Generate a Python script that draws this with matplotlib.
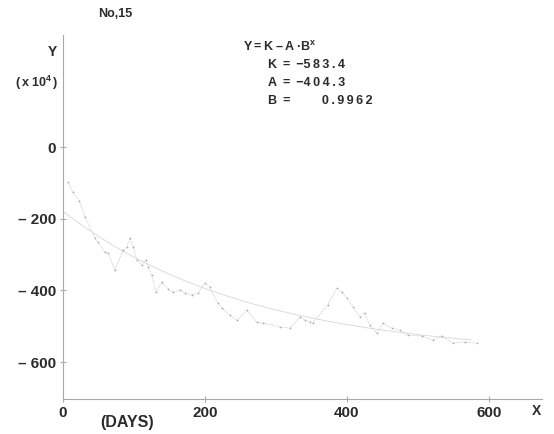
import matplotlib
matplotlib.use("Agg")
import matplotlib.pyplot as plt
from matplotlib.ticker import FixedLocator, FuncFormatter

plt.rcParams['font.family'] = ['Liberation Sans', 'DejaVu Sans']
plt.rcParams['mathtext.fontset'] = 'custom'
plt.rcParams['mathtext.rm'] = 'Liberation Sans'
plt.rcParams['mathtext.bf'] = 'Liberation Sans:bold'
plt.rcParams['mathtext.it'] = 'Liberation Sans:italic'

# Observed data (days, value x10^4)
obs_days = [7, 14, 23, 31, 45, 49, 59, 64, 73, 85, 90, 94, 99, 104, 111, 117, 120, 125,
            131, 139, 148, 155, 165, 172, 182, 190, 200, 207, 218, 224, 235, 245, 259,
            273, 282, 306, 320, 334, 341, 348, 352, 373, 386, 393, 400, 409, 418, 425,
            432, 442, 451, 463, 475, 486, 506, 521, 534, 549, 566, 583]
obs_vals = [-98, -126, -150, -195, -254, -265, -293, -296, -343, -287, -279, -254, -279,
            -315, -329, -315, -335, -357, -405, -377, -396, -405, -399, -408, -413, -408,
            -380, -391, -436, -449, -469, -483, -455, -488, -491, -502, -505, -474, -483,
            -488, -491, -441, -394, -405, -421, -446, -474, -463, -497, -519, -491, -505,
            -511, -525, -527, -539, -527, -547, -544, -547]

# Fitted curve read at regular days
fit_days = [0, 25, 50, 75, 100, 125, 150, 175, 200, 225, 250, 275, 300, 325, 350, 375,
            400, 425, 450, 475, 500, 525, 550, 575]
fit_vals = [-179.1, -215.8, -249.2, -279.5, -307.1, -332.2, -355.0, -375.7, -394.6,
            -411.7, -427.3, -441.5, -454.4, -466.1, -476.7, -486.4, -495.2, -503.2,
            -510.5, -517.1, -523.2, -528.6, -533.6, -538.1]

x_ticks = [0, 200, 400, 600]
y_ticks = [0, -200, -400, -600]
TS = "\u2009"  # thin space for letter spacing
eq_title = "Y" + TS + "=" + TS + "K" + TS + "\u2013" + TS + "A" + TS + "\u00b7B$^{\\mathbf{x}}$"
eq_lines = ["K" + TS + " = " + TS + "\u2212" + TS.join("583.4"),
            "A" + TS + " = " + TS + "\u2212" + TS.join("404.3"),
            "B" + TS + " =" + "         " + TS.join("0.9962")]

W, H = 554, 434
fig = plt.figure(figsize=(W / 100, H / 100), dpi=100)
ax = fig.add_axes([63 / W, 1 - 399 / H, (542 - 63) / W, (399 - 35) / H])
ax.set_xlim(0, 675)
ax.set_ylim(-703, 313)

txt_col = '#2b2b2b'
axis_col = '#a8a8a8'

ax.plot(fit_days, fit_vals, color='#dcdcdc', lw=0.7, zorder=2)
ax.plot(obs_days, obs_vals, color='#d4d4d4', lw=0.6, ls=(0, (2, 1)), marker='.', ms=2.5,
        mfc='#aaaaaa', mec='none', zorder=3)

for s in ['top', 'right']:
    ax.spines[s].set_visible(False)
for s in ['left', 'bottom']:
    ax.spines[s].set_color(axis_col)
    ax.spines[s].set_linewidth(0.8)

ax.xaxis.set_major_locator(FixedLocator(x_ticks))
ax.yaxis.set_major_locator(FixedLocator(y_ticks))
ax.xaxis.set_major_formatter(FuncFormatter(lambda v, p: f"{int(v)}"))
ax.yaxis.set_major_formatter(FuncFormatter(
    lambda v, p: "0" if v == 0 else f"\u2013 {abs(int(v))}"))
ax.tick_params(axis='both', direction='inout', length=4, width=0.8, color=axis_col,
               labelsize=11, labelcolor=txt_col, pad=3)
for lab in ax.get_xticklabels() + ax.get_yticklabels():
    lab.set_fontweight('bold')

tkw = dict(color=txt_col, fontweight='bold', fontsize=9)
fig.text(115 / W, 1 - 14 / H, "No,15", ha='center', va='center', **tkw)
fig.text(52 / W, 1 - 52 / H, "Y", ha='center', va='center', fontsize=10,
         color=txt_col, fontweight='bold')
fig.text(37 / W, 1 - 83 / H, "(" + TS + "x" + TS + "10$^{\\mathbf{4}}$" + TS + ")",
         ha='center', va='center', **tkw)
fig.text(127 / W, 1 - 423 / H, "(DAYS)", ha='center', va='center',
         fontsize=11.5, color=txt_col, fontweight='bold')
fig.text(537 / W, 1 - 411 / H, "X", ha='center', va='center', fontsize=10,
         color=txt_col, fontweight='bold')

fig.text(243 / W, 1 - 47 / H, eq_title, ha='left', va='center', **tkw)
for i, line in enumerate(eq_lines):
    fig.text(268 / W, 1 - (65 + 18 * i) / H, line, ha='left', va='center', **tkw)

fig.savefig("out.png", dpi=100, facecolor='white')
